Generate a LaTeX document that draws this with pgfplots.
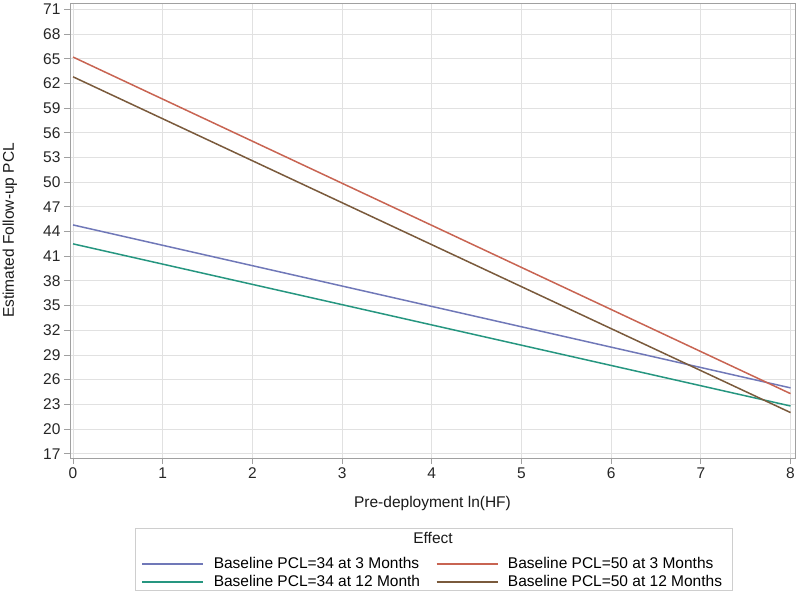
\documentclass[border=0pt]{standalone}
\usepackage{pgfplots}
\pgfplotsset{compat=1.18}
\usepackage{fontspec}
\setmainfont{Liberation Sans}
\definecolor{cblue}{RGB}{112,120,184}
\definecolor{cred}{RGB}{200,100,82}
\definecolor{cteal}{RGB}{38,150,128}
\definecolor{cbrown}{RGB}{122,90,60}
\definecolor{gridc}{RGB}{225,225,225}
\definecolor{axc}{RGB}{160,160,160}
\newcommand{\fs}{\fontsize{15.5}{18.6}\selectfont}
\begin{document}
\begin{tikzpicture}
\path[use as bounding box] (-70pt,-135pt) rectangle (730pt,458pt);
\begin{axis}[
  scale only axis,
  width=725pt, height=455pt,
  xmin=-0.034, xmax=8.05,
  ymin=16.48, ymax=71.77,
  xtick={0,1,...,8},
  ytick={17,20,...,71},
  grid=major,
  major grid style={gridc, line width=0.8pt},
  axis line style={axc, line width=0.9pt},
  tick style={axc, line width=0.9pt},
  tick align=outside,
  major tick length=6pt,
  xtick pos=bottom, ytick pos=left,
  /pgf/number format/assume math mode=true,
  tick label style={font=\fs, text=black!85},
  xlabel={Pre-deployment ln(HF)},
  ylabel={Estimated Follow-up PCL},
  label style={font=\fs, text=black!90},
  xlabel style={at={(axis description cs:0.5,-0.099)}, anchor=center},
  ylabel style={at={(axis description cs:-0.083,0.5)}, anchor=center},
  legend columns=2,
  legend cell align=left,
  legend style={font=\fs, draw=none, fill=none,
    at={(axis description cs:0.5,-0.2522)}, anchor=center,
    /tikz/every even column/.append style={column sep=14pt},
    nodes={inner sep=1.5pt}, row sep=2.5pt},
  legend image code/.code={\draw[line width=1.8pt, #1] (0pt,0pt) -- (61pt,0pt) (69pt,0pt);},
]
\addplot[cblue, line width=1.5pt] coordinates {(0,44.8) (8,25.0)};
\addlegendentry{Baseline PCL=34 at 3 Months}
\addplot[cred, line width=1.5pt] coordinates {(0,65.2) (8,24.3)};
\addlegendentry{Baseline PCL=50 at 3 Months}
\addplot[cteal, line width=1.5pt] coordinates {(0,42.5) (8,22.8)};
\addlegendentry{Baseline PCL=34 at 12 Month}
\addplot[cbrown, line width=1.5pt] coordinates {(0,62.8) (8,22.0)};
\addlegendentry{Baseline PCL=50 at 12 Months}
\end{axis}
\draw[gridc!80!gray, line width=0.9pt] (65pt,-70pt) rectangle (662pt,-132pt);
\node[font=\fs, text=black!90] at (363pt,-80pt) {Effect};
\end{tikzpicture}
\end{document}
